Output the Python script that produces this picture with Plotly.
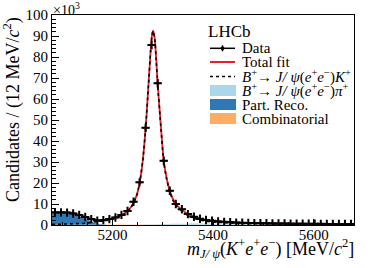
import numpy as np
import plotly.graph_objects as go

# ---------------- data (values in units of 10^3 candidates) ----------------
bin_centers = [5086 + 12 * i for i in range(50)]
data_vals = [6.0, 6.0, 5.9, 5.5, 4.8, 3.8, 2.8, 2.1, 2.3, 2.8,
             3.6, 4.8, 6.7, 11.1, 20.3, 46.3, 85.7, 67.5, 30.6, 16.3,
             10.0, 7.5, 5.2, 3.9, 3.0, 2.4, 2.0, 1.7, 1.5, 1.3,
             1.15, 1.05, 0.95, 0.9, 0.85, 0.8, 0.75, 0.7, 0.68, 0.65,
             0.62, 0.6, 0.58, 0.56, 0.55, 0.53, 0.52, 0.5, 0.5, 0.48]
bin_half_width = 6

fit_x = [5080, 5092, 5104, 5116, 5128, 5140, 5152, 5164, 5176, 5188,
         5200, 5212, 5224, 5236, 5248, 5254, 5260, 5266, 5272, 5276,
         5279, 5281, 5284, 5287, 5290, 5296, 5302, 5308, 5314, 5320,
         5326, 5338, 5350, 5362, 5374, 5386, 5398, 5410, 5422, 5440,
         5460, 5480, 5500, 5530, 5560, 5590, 5620, 5650, 5680]
total_fit = [6.0, 6.0, 6.0, 5.8, 5.2, 4.3, 3.3, 2.5, 2.1, 2.4,
             3.0, 4.0, 5.5, 8.2, 14.0, 20.0, 30.0, 46.0, 68.0, 83.0,
             91.0, 92.5, 89.0, 79.0, 67.0, 48.0, 30.5, 22.0, 16.3, 12.5,
             10.0, 7.2, 5.2, 3.9, 3.0, 2.4, 2.0, 1.7, 1.5, 1.25,
             1.05, 0.92, 0.82, 0.72, 0.64, 0.58, 0.54, 0.51, 0.48]
sig_k = [0.35, 0.35, 0.45, 0.55, 0.65, 0.75, 0.95, 1.45, 1.75, 2.25,
         2.85, 3.85, 5.35, 8.05, 13.8, 19.8, 29.8, 45.8, 67.8, 82.8,
         90.8, 92.3, 88.8, 78.8, 66.7, 47.7, 30.1, 21.6, 15.8, 12.0,
         9.45, 6.6, 4.55, 3.25, 2.4, 1.85, 1.5, 1.25, 1.08, 0.88,
         0.72, 0.64, 0.58, 0.52, 0.47, 0.43, 0.41, 0.39, 0.37]
comb = [0.15, 0.15, 0.15, 0.14, 0.14, 0.14, 0.14, 0.13, 0.13, 0.13,
        0.13, 0.13, 0.12, 0.12, 0.12, 0.12, 0.12, 0.12, 0.12, 0.12,
        0.12, 0.12, 0.12, 0.12, 0.12, 0.12, 0.12, 0.11, 0.11, 0.11,
        0.11, 0.11, 0.11, 0.11, 0.11, 0.11, 0.10, 0.10, 0.10, 0.10,
        0.10, 0.10, 0.10, 0.10, 0.09, 0.09, 0.09, 0.09, 0.09]
part_reco = [5.5, 5.5, 5.4, 5.1, 4.4, 3.4, 2.2, 0.9, 0.2, 0.03,
             0, 0, 0, 0, 0, 0, 0, 0, 0, 0,
             0, 0, 0, 0, 0, 0, 0, 0, 0, 0,
             0, 0, 0, 0, 0, 0, 0, 0, 0, 0,
             0, 0, 0, 0, 0, 0, 0, 0, 0]
pi_comp = [0, 0, 0, 0, 0, 0, 0, 0, 0, 0,
           0, 0, 0.01, 0.01, 0.02, 0.03, 0.05, 0.08, 0.1, 0.12,
           0.13, 0.14, 0.16, 0.18, 0.2, 0.25, 0.3, 0.35, 0.4, 0.43,
           0.46, 0.5, 0.53, 0.55, 0.56, 0.55, 0.52, 0.48, 0.43, 0.36,
           0.29, 0.23, 0.18, 0.13, 0.1, 0.08, 0.06, 0.05, 0.04]

x_ticks = [5200, 5400, 5600]
y_ticks = [0, 10, 20, 30, 40, 50, 60, 70, 80, 90, 100]

legend_labels = [
    "Data",
    "Total fit",
    "<i>B</i><sup>+</sup>\u2192 <i>J/ \u03c8</i>(<i>e</i><sup>+</sup><i>e</i><sup>\u2212</sup>)<i>K</i><sup>+</sup>",
    "<i>B</i><sup>+</sup>\u2192 <i>J/ \u03c8</i>(<i>e</i><sup>+</sup><i>e</i><sup>\u2212</sup>)<i>\u03c0</i><sup>+</sup>",
    "Part. Reco.",
    "Combinatorial",
]

C_RED = "#ee1c25"
C_LB = "#a8d8ea"
C_DB = "#2e79b5"
C_OR = "#fdac63"
FONT = "Liberation Serif, Times New Roman, Times, serif"

fig = go.Figure()

# stacked background components
fig.add_trace(go.Scatter(x=fit_x, y=comb, stackgroup="bkg", mode="none",
                         fillcolor=C_OR, line=dict(shape="spline", smoothing=0.6),
                         showlegend=False, hoverinfo="skip"))
fig.add_trace(go.Scatter(x=fit_x, y=part_reco, stackgroup="bkg", mode="none",
                         fillcolor=C_DB, line=dict(shape="spline", smoothing=0.6),
                         showlegend=False, hoverinfo="skip"))
fig.add_trace(go.Scatter(x=fit_x, y=pi_comp, stackgroup="bkg", mode="none",
                         fillcolor=C_LB, line=dict(shape="spline", smoothing=0.6),
                         showlegend=False, hoverinfo="skip"))

# total fit
fig.add_trace(go.Scatter(x=fit_x, y=total_fit, mode="lines",
                         line=dict(color=C_RED, width=1.8, shape="spline", smoothing=0.6),
                         showlegend=False, hoverinfo="skip"))
# signal component
fig.add_trace(go.Scatter(x=fit_x, y=sig_k, mode="lines",
                         line=dict(color="black", width=1.6, dash="dot", shape="spline", smoothing=0.6),
                         showlegend=False, hoverinfo="skip"))

# data points
err_y = [np.sqrt(v * 1000.0) / 1000.0 for v in data_vals]
fig.add_trace(go.Scatter(
    x=bin_centers, y=data_vals, mode="markers",
    marker=dict(symbol="cross-thin", size=6, color="black",
                line=dict(color="black", width=2)),
    error_x=dict(type="constant", value=bin_half_width, color="black", thickness=1.6, width=0),
    error_y=dict(type="data", array=err_y, color="black", thickness=1.6, width=0),
    showlegend=False, hoverinfo="skip"))

# ---------------- layout ----------------
L, R, T, B = 52, 20, 15, 43
W, H = 374, 268
PW, PH = W - L - R, H - T - B


def px(xp):
    return (xp - L) / PW


def py(yp):
    return (H - B - yp) / PH


fig.update_layout(
    width=W, height=H, autosize=False,
    margin=dict(l=L, r=R, t=T, b=B, pad=0, autoexpand=False),
    paper_bgcolor="white", plot_bgcolor="white",
    font=dict(family=FONT, size=15, color="black"),
    showlegend=False,
)
fig.update_xaxes(
    range=[5080, 5680], tickvals=x_ticks, ticktext=[str(v) for v in x_ticks],
    ticks="inside", ticklen=6, tickwidth=1, tickcolor="black",
    showline=True, linecolor="black", linewidth=1, mirror=True,
    showgrid=False, zeroline=False, ticklabelstandoff=-4,
    tickfont=dict(family=FONT, size=15),
    minor=dict(dtick=50, tick0=5100, ticks="inside", ticklen=3.5, tickcolor="black", showgrid=False),
)
fig.update_yaxes(
    range=[0, 100], tickvals=y_ticks, ticktext=[str(v) for v in y_ticks],
    ticks="inside", ticklen=7, tickwidth=1, tickcolor="black",
    showline=True, linecolor="black", linewidth=1, mirror=True,
    showgrid=False, zeroline=False,
    tickfont=dict(family=FONT, size=15),
    minor=dict(dtick=2, ticks="inside", ticklen=3.5, tickcolor="black", showgrid=False),
)

ann = []
# axis titles
ann.append(dict(text="Candidates / (12 MeV/<i>c</i><sup>2</sup>)", textangle=-90,
                xref="paper", yref="paper", x=px(12), y=py(110),
                xanchor="center", yanchor="middle", showarrow=False,
                font=dict(family=FONT, size=18)))
ann.append(dict(text="<i>m</i><sub><i>J/ \u03c8</i></sub>(<i>K</i><sup>+</sup><i>e</i><sup>+</sup><i>e</i><sup>\u2212</sup>) [MeV/<i>c</i><sup>2</sup>]",
                xref="paper", yref="paper", x=px(356), y=py(248),
                xanchor="right", yanchor="middle", showarrow=False,
                font=dict(family=FONT, size=18)))
ann.append(dict(text="\u00d710<sup>3</sup>", xref="paper", yref="paper",
                x=px(51), y=py(9), xanchor="left", yanchor="middle",
                showarrow=False, font=dict(family=FONT, size=14)))
ann.append(dict(text="LHCb", xref="paper", yref="paper", x=px(206), y=py(31.5),
                xanchor="left", yanchor="middle", showarrow=False,
                font=dict(family=FONT, size=17)))

row_y = [48.3, 62, 76.5, 90.5, 104.5, 118.5]
for lab, ry in zip(legend_labels, row_y):
    ann.append(dict(text=lab, xref="paper", yref="paper", x=px(240), y=py(ry),
                    xanchor="left", yanchor="middle", showarrow=False,
                    font=dict(family=FONT, size=15)))

shapes = []
x0s, x1s = px(210), px(235)
# Data symbol
shapes.append(dict(type="line", xref="paper", yref="paper", x0=x0s, x1=x1s,
                   y0=py(row_y[0]), y1=py(row_y[0]), line=dict(color="black", width=1.5)))
shapes.append(dict(type="line", xref="paper", yref="paper", x0=px(222.5), x1=px(222.5),
                   y0=py(row_y[0] - 3), y1=py(row_y[0] + 3), line=dict(color="black", width=1.5)))
shapes.append(dict(type="circle", xref="paper", yref="paper", x0=px(221), x1=px(224),
                   y0=py(row_y[0] - 1.5), y1=py(row_y[0] + 1.5),
                   fillcolor="black", line=dict(color="black", width=1)))
# Total fit
shapes.append(dict(type="line", xref="paper", yref="paper", x0=x0s, x1=x1s,
                   y0=py(row_y[1]), y1=py(row_y[1]), line=dict(color=C_RED, width=2)))
# signal
shapes.append(dict(type="line", xref="paper", yref="paper", x0=x0s, x1=x1s,
                   y0=py(row_y[2]), y1=py(row_y[2]), line=dict(color="black", width=1.6, dash="dot")))
# fill boxes
for col, ry in zip([C_LB, C_DB, C_OR], row_y[3:]):
    shapes.append(dict(type="rect", xref="paper", yref="paper", x0=x0s, x1=px(236),
                       y0=py(ry + 5.5), y1=py(ry - 5.5), fillcolor=col,
                       line=dict(width=0)))

fig.update_layout(annotations=ann, shapes=shapes)

fig.write_html(
    "out.html",
    config={"displayModeBar": False},
    post_script="document.body.style.margin='0';document.body.style.padding='0';"
                "document.documentElement.style.overflow='hidden';",
)
